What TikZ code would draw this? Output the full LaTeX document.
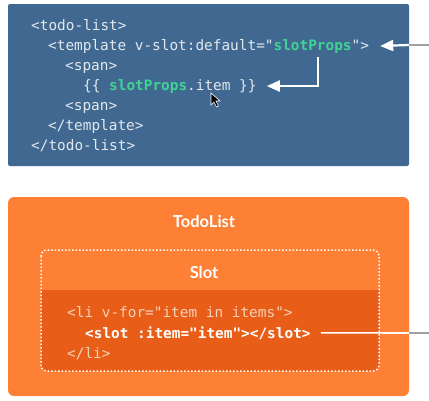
\documentclass[tikz,border=0pt]{standalone}
\usepackage{fontspec}
\setmonofont{DejaVu Sans Mono}
\setsansfont{Lato}
\usetikzlibrary{arrows.meta,positioning,calc}
\definecolor{codeblue}{HTML}{406891}
\definecolor{codetext}{HTML}{E3E8EE}
\definecolor{propgreen}{HTML}{42D394}
\definecolor{listorange}{HTML}{FD8034}
\definecolor{slotdark}{HTML}{E85D17}
\definecolor{litext}{HTML}{F6D2BA}
\definecolor{outline}{HTML}{A0A0A0}

\begin{document}
\begin{tikzpicture}[x=1pt,y=-1pt,
    code/.style={anchor=base west,inner sep=0pt,text=codetext,
      font=\ttfamily\fontsize{14.4}{16}\selectfont},
    title/.style={inner sep=0pt,text=white,font=\sffamily\bfseries\fontsize{16.5}{18}\selectfont},
    link/.style={white,line width=2.2pt,-{Triangle[length=13pt,width=11pt]}},
    wire/.style={white,line width=1.6pt},
    outwire/.style={outline,line width=1.2pt}]
  \useasboundingbox (0,0) rectangle (429,400);

  % template code
  \fill[codeblue,rounded corners=2pt] (8,4) rectangle (409,166);
  \node[code] (todo) at (31,30) {<todo-list>};
  \node[code] (tmpl) at (48,50) {<template v-slot:default="\textcolor{propgreen}{\bfseries slotProps}">};
  \node[code] (spanA) at (65,70) {<span>};
  \node[code] (itm) at (83,90) {\{\{ \textcolor{propgreen}{\bfseries slotProps}.item \}\}};
  \node[code] (spanB) at (65,110) {<span>};
  \node[code] (tmplend) at (48,130) {</template>};
  \node[code] (todoend) at (31,150) {</todo-list>};

  \coordinate (rightA) at (429,45);
  \coordinate (edgeA) at (409,45);
  \coordinate (props) at (318,57);
  \draw[outwire] (rightA) -- (edgeA);
  \draw[link] (edgeA) -- ($(tmpl.east)+(11,0)$);
  \draw[link] (props) |- ($(itm.east)+(10,0)$);

  % mouse pointer
  \filldraw[fill=black,draw=white,line width=0.6pt] (211,93) -- (211,105) -- (214,102) -- (216.5,107) -- (218.5,106) -- (216,101) -- (220,101) -- cycle;

  % component
  \fill[listorange,rounded corners=6pt] (8,197) rectangle (409,396);
  \node[title] (listname) at (204,221) {TodoList};
  \begin{scope}
    \clip (0,290) rectangle (429,400);
    \fill[slotdark,rounded corners=6pt] (41,250) rectangle (379,371);
  \end{scope}
  \draw[white,line width=1.5pt,dotted,rounded corners=6pt] (41,250) rectangle (379,371);
  \node[title] (slotname) at (204,272) {Slot};

  \node[code,text=litext] (li) at (67,317) {<li v-for="item in items">};
  \node[code,text=white,font=\ttfamily\bfseries\fontsize{14.4}{16}\selectfont] (slottag) at (85,338) {<slot :item="item"></slot>};
  \node[code,text=litext] (liend) at (67,358) {</li>};

  \coordinate (edgeB) at (409,333);
  \coordinate (rightB) at (429,333);
  \draw[wire] ($(slottag.east)+(10,0)$) -- (edgeB);
  \draw[outwire] (edgeB) -- (rightB);
\end{tikzpicture}
\end{document}
